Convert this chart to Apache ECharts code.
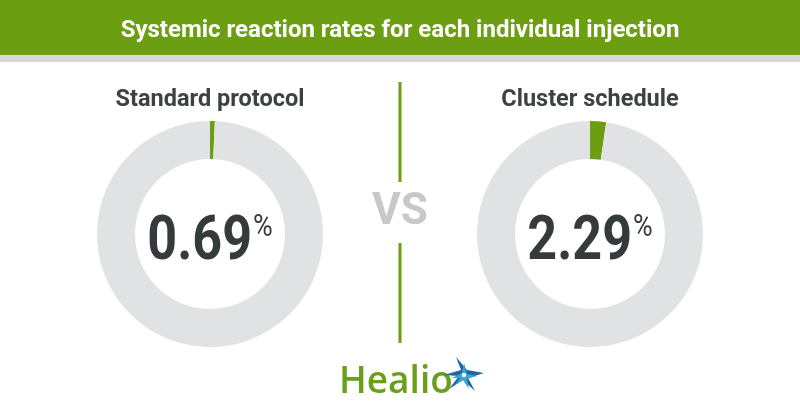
<!DOCTYPE html>
<html><head><meta charset="utf-8">
<script src="https://cdn.jsdelivr.net/npm/echarts@6/dist/echarts.min.js"></script>
<style>html,body{margin:0;padding:0;background:#fff}#c{width:800px;height:420px}</style>
</head><body><div id="c"></div>
<script>
const title = 'Systemic reaction rates for each individual injection';
const categories = ['Standard protocol', 'Cluster schedule'];
const values = [0.69, 2.29];
const totals = [100, 100];

const GREEN = '#6b9e10';
const RING = '#e1e2e4';
const DARK = '#353b3d';
const centersX = [210, 590];

const chart = echarts.init(document.getElementById('c'), null, {renderer: 'canvas'});

const series = categories.map((cat, i) => ({
  type: 'pie',
  name: cat,
  center: [centersX[i], 234],
  radius: [75, 113],
  startAngle: 90,
  clockwise: true,
  silent: true,
  avoidLabelOverlap: false,
  label: {show: false},
  labelLine: {show: false},
  emphasis: {disabled: true},
  data: [
    {value: values[i], name: cat, itemStyle: {color: GREEN}},
    {value: totals[i] - values[i], name: 'rest', itemStyle: {color: RING}}
  ]
}));

const graphic = [
  {type: 'rect', shape: {x: 0, y: 0, width: 800, height: 55}, style: {fill: GREEN}},
  {type: 'rect', shape: {x: 0, y: 55, width: 800, height: 7}, style: {fill: '#d8d8d8'}},
  {type: 'text', x: 400, y: 31, style: {text: title, x: 0, y: 0, align: 'center', verticalAlign: 'middle',
    font: 'bold 24px Roboto, sans-serif', fill: '#ffffff'}},
  {type: 'line', shape: {x1: 400, y1: 82, x2: 400, y2: 182}, style: {stroke: GREEN, lineWidth: 3}},
  {type: 'line', shape: {x1: 400, y1: 243, x2: 400, y2: 343}, style: {stroke: GREEN, lineWidth: 3}},
  {type: 'text', style: {text: 'VS', x: 400, y: 213, align: 'center', verticalAlign: 'middle',
    font: 'bold 44px Roboto, sans-serif', fill: '#c8c8c8'}},
  {type: 'text', style: {text: 'Healio', x: 339, y: 382, align: 'left', verticalAlign: 'middle',
    font: '600 37px "Open Sans", sans-serif', fill: '#6a9f1c'}},
  {type: 'polygon', shape: {points: [[444,375],[461,370],[456,357],[467,370],[484,373],[468,378],[475,391],[463,380],[449,389],[459,376]]},
    style: {fill: '#1f64a4'}},
  {type: 'polygon', shape: {points: [[452,378],[462,373],[464,363],[467,374],[477,376],[467,379],[469,389],[463,380],[455,385],[460,378]]},
    style: {fill: '#3aa6cf'}},
  {type: 'circle', shape: {cx: 464, cy: 375, r: 2.2}, style: {fill: '#ffffff'}}
];
categories.forEach((cat, i) => {
  graphic.push({type: 'text', style: {text: cat, x: centersX[i], y: 100, align: 'center', verticalAlign: 'middle',
    font: 'bold 23.5px Roboto, sans-serif', fill: '#3c4244'}});
  graphic.push({type: 'text', x: centersX[i], y: 243, scaleX: 0.84, style: {
    text: '{n|' + values[i].toFixed(2) + '}{p|%}', x: 0, y: 0, align: 'center', verticalAlign: 'middle',
    rich: {
      n: {fontFamily: 'Roboto, sans-serif', fontWeight: 'bold', fontSize: 62, lineHeight: 62, fill: DARK, color: DARK},
      p: {fontFamily: 'Roboto, sans-serif', fontWeight: 'normal', fontSize: 32, lineHeight: 32, fill: DARK, color: DARK, verticalAlign: 'top', padding: [0, 0, 0, 1]}
    }}});
});

chart.setOption({animation: false, backgroundColor: '#ffffff', series, graphic});
</script></body></html>
